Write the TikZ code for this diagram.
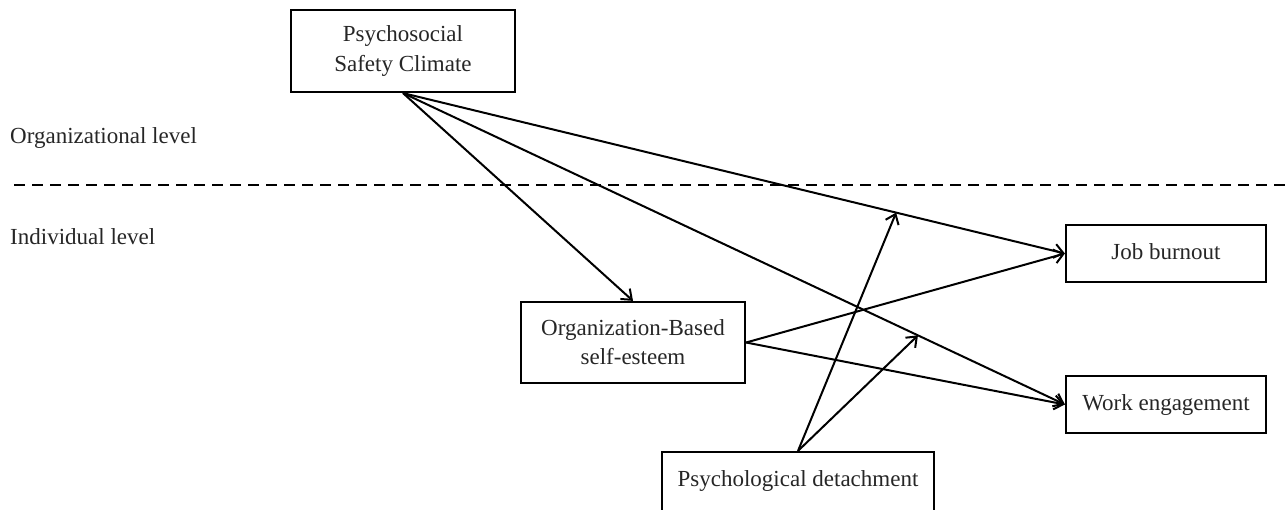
\documentclass[tikz,border=0pt]{standalone}
\usepackage{fontspec}
\setmainfont{Liberation Serif}
\usetikzlibrary{arrows.meta,calc}
\begin{document}
\begin{tikzpicture}[x=1pt,y=-1pt,
  box/.style={draw, line width=2.2pt, inner sep=0pt, align=center,
    font=\fontsize{23}{29}\selectfont, text=black!85},
  conn/.style={line width=2pt, -{Straight Barb[length=9pt,width=14pt,line width=2pt]}},
  lvl/.style={anchor=west, inner sep=0pt, font=\fontsize{23}{28}\selectfont, text=black!85}]
\useasboundingbox (0,0) rectangle (1288,509);
\node[box, minimum width=224pt, minimum height=82pt] (psc) at (403,51) {Psychosocial\\Safety Climate};
\node[box, minimum width=224pt, minimum height=81pt] (obse) at (633,342.5) {Organization-Based\\self-esteem};
\node[box, minimum width=200pt, minimum height=57pt] (jb) at (1166,253.5) {\raisebox{4pt}{Job burnout}};
\node[box, minimum width=200pt, minimum height=57pt] (we) at (1166,404.5) {\raisebox{3pt}{Work engagement}};
\node[box, minimum width=272pt, minimum height=62pt] (pd) at (798,483) {\raisebox{8pt}{Psychological detachment}};
\node[lvl] (org) at (10,138) {Organizational level};
\node[lvl] (ind) at (10,237) {Individual level};
\coordinate (dl) at (14,185);
\coordinate (dr) at (1288,185);
\draw[line width=2pt, dash pattern=on 11pt off 7pt] (dl) -- (dr);
\draw[conn] (psc.south) -- (obse.north);
\draw[conn] (psc.south) -- (jb.west);
\draw[conn] (psc.south) -- (we.west);
\draw[conn] (obse.east) -- (jb.west);
\draw[conn] (obse.east) -- (we.west);
\coordinate (m1) at ($(psc.south)!0.745!(jb.west)$);
\coordinate (m2) at ($(psc.south)!0.778!(we.west)$);
\draw[conn] (pd.north) -- (m1);
\draw[conn] (pd.north) -- (m2);
\end{tikzpicture}
\end{document}
